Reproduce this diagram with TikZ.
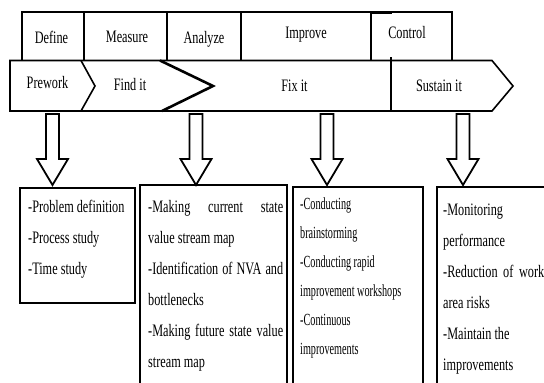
\documentclass[tikz,border=0pt]{standalone}
\usepackage{fontspec}
\setmainfont{Liberation Serif}[FakeStretch=0.7]
\newfontfamily\condserif{Liberation Serif}[FakeStretch=0.6]
\begin{document}
\begin{tikzpicture}[x=1pt,y=-1pt,
  ln/.style={line width=1.6pt, line join=miter},
  thickln/.style={line width=2.6pt, line join=miter},
  lbl/.style={font=\fontsize{17.5}{20}\selectfont, inner sep=0, anchor=base},
  boxtext/.style={inner sep=0, anchor=north west, align=left, font=\fontsize{17.5}{31}\selectfont},
  boxtextsmall/.style={inner sep=0, anchor=north west, align=left, font=\condserif\fontsize{17}{29}\selectfont},
  hollow/.style={line width=1.8pt, fill=white, line join=miter}]
\useasboundingbox (0,0) rectangle (544,383);
% top phase row
\draw[ln] (22,12) rectangle (452,60.5);
\foreach \xx in {84,167,241,371} \draw[ln] (\xx,12) -- (\xx,60.5);
\draw[line width=2.4pt] (371,12.3) -- (392,12.3);
% band arrow
\draw[ln, fill=white] (10,60.5) -- (492,60.5) -- (513,86) -- (492,111) -- (10,111) -- cycle;
\draw[ln] (81,60.5) -- (95,86) -- (81,111);
\draw[thickln] (160,60.5) -- (213,86) -- (162,111);
\draw[ln] (391,57) -- (391,111);
% labels top
\node[lbl] (define) at (51.5,43) {Define};
\node[lbl] (measure) at (127,42) {Measure};
\node[lbl] (analyze) at (204,43) {Analyze};
\node[lbl] (improve) at (306,38) {Improve};
\node[lbl] (control) at (407,38) {Control};
% band labels
\node[lbl] (prework) at (47.5,88) {Prework};
\node[lbl] (findit) at (130,90) {Find it};
\node[lbl] (fixit) at (294.5,91) {Fix it};
\node[lbl] (sustain) at (439,91) {Sustain it};
% hollow block arrows
\foreach \cx in {52.5,196,327,463}
  \draw[hollow] ({\cx-6.5},114) -- ({\cx-6.5},159) -- ({\cx-15.5},159) -- (\cx,185)
     -- ({\cx+15.5},159) -- ({\cx+6.5},159) -- ({\cx+6.5},114) -- cycle;
% boxes
\draw[ln] (20,188) rectangle (135,303);
\draw[ln] (140,185) rectangle (287,392);
\draw[ln] (293,187) rectangle (423,392);
\draw[ln] (437,187) rectangle (560,392);
% box texts
\node[boxtext] (t1) at (28,199) {\rule{0pt}{13pt}-Problem definition\\-Process study\\-Time study};
\node[boxtext] (t2) at (148,199) {\rule{0pt}{13pt}\makebox[135pt][s]{-Making current state}\\value stream map\\\makebox[135pt][s]{-Identification of NVA and}\\bottlenecks\\\makebox[135pt][s]{-Making future state value}\\stream map};
\node[boxtextsmall] (t3) at (300,196) {\rule{0pt}{13pt}-Conducting\\brainstorming\\-Conducting rapid\\improvement workshops\\-Continuous\\improvements};
\node[boxtext] (t4) at (443,202) {\rule{0pt}{13pt}-Monitoring\\performance\\\makebox[101pt][s]{-Reduction of work}\\area risks\\-Maintain the\\improvements};
\end{tikzpicture}
\end{document}
